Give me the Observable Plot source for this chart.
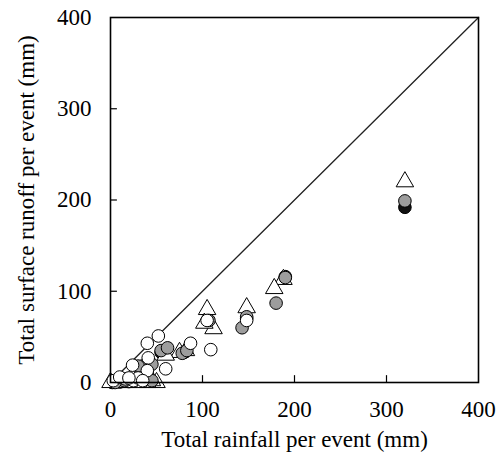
<!DOCTYPE html>
<html>
<head>
<meta charset="utf-8">
<script src="https://cdn.jsdelivr.net/npm/d3@7"></script>
<script src="https://cdn.jsdelivr.net/npm/@observablehq/plot@0.6"></script>
<style>
  html, body { margin: 0; padding: 0; background: #fff; }
  #chart svg { display: block; }
</style>
</head>
<body>
<div id="chart"></div>
<script>
// Tick labels
const ticks = [0, 100, 200, 300, 400];
const diagonal = [0, 400];
const xTitle = "Total rainfall per event (mm)";
const yTitle = "Total surface runoff per event (mm)";

// Series A: black circles (rainfall, runoff)
const blackX = [320, 190, 148, 105, 80, 55, 40, 30, 20, 10, 2];
const blackY = [192, 116, 70, 67, 33, 33, 10, 3, 1, 0.5, 0];

// Series B: grey circles
const greyX = [320, 190, 180, 143, 148, 107, 78, 83, 55, 62, 45, 35, 30, 40, 25, 15, 5, 45];
const greyY = [199, 115, 87, 60, 72, 68, 32, 35, 35, 38, 20, 18, 18, 5, 3, 2, 0, 2];

// Series C: white triangles
const triX = [320, 188, 178, 148, 105, 112, 102, 82, 75, 60, 50, 40, 30, 20, 10, 0, 45, 35];
const triY = [220, 113, 103, 82, 80, 59, 65, 35, 33, 30, 0, 0, 0, 0, 0, 0, 2, 15];

// Series D: white circles
const whiteX = [109, 105, 148, 87, 52, 40, 41, 40, 24, 60, 16, 25, 3, 10, 30, 35, 20];
const whiteY = [36, 68, 68, 43, 51, 43, 27, 13, 19, 15, 4, 2, 2, 6, 5, 2, 5];

const pts = (xs, ys) => xs.map((x, i) => ({x, y: ys[i]}));

const chart = Plot.plot({
  width: 500,
  height: 466,
  marginLeft: 110,
  marginRight: 22,
  marginTop: 17,
  marginBottom: 84,
  style: {fontFamily: "'Liberation Serif', 'Times New Roman', serif", fontSize: "23px", color: "#000", background: "#fff"},
  x: {domain: [0, 400], ticks: ticks, tickSize: 0, tickPadding: 18, label: null},
  y: {domain: [0, 400], ticks: ticks, tickSize: 0, tickPadding: 19, label: null},
  marks: [
    Plot.text([yTitle], {frameAnchor: "left", text: d => d, rotate: -90, dx: -84, textAnchor: "middle", lineAnchor: "middle", lineWidth: Infinity, fontSize: 23, fill: "#000"}),
    Plot.text([xTitle], {frameAnchor: "bottom", text: d => d, dy: 57, textAnchor: "middle", lineAnchor: "middle", lineWidth: Infinity, fontSize: 23, fill: "#000"}),
    Plot.line(diagonal, {x: d => d, y: d => d, stroke: "#222", strokeWidth: 1.3}),
    Plot.ruleX(ticks.slice(1, -1), {x: d => d, y1: 0, y2: 7.5, stroke: "#000", strokeWidth: 1.2}),
    Plot.ruleY(ticks.slice(1, -1), {y: d => d, x1: 0, x2: 7.5, stroke: "#000", strokeWidth: 1.2}),
    Plot.dot(pts(blackX, blackY), {x: "x", y: "y", r: 6.3, fill: "#111", stroke: "#000", strokeWidth: 1}),
    Plot.dot(pts(triX, triY), {x: "x", y: "y", r: 6.5, symbol: "triangle", fill: "#fff", stroke: "#000", strokeWidth: 1}),
    Plot.dot(pts(greyX, greyY), {x: "x", y: "y", r: 6.3, fill: "#9d9d9d", stroke: "#000", strokeWidth: 1}),
    Plot.dot(pts(whiteX, whiteY), {x: "x", y: "y", r: 6.3, fill: "#fff", stroke: "#000", strokeWidth: 1}),
    Plot.frame({stroke: "#000", strokeWidth: 1.6})
  ]
});
document.getElementById("chart").appendChild(chart);
</script>
</body>
</html>
